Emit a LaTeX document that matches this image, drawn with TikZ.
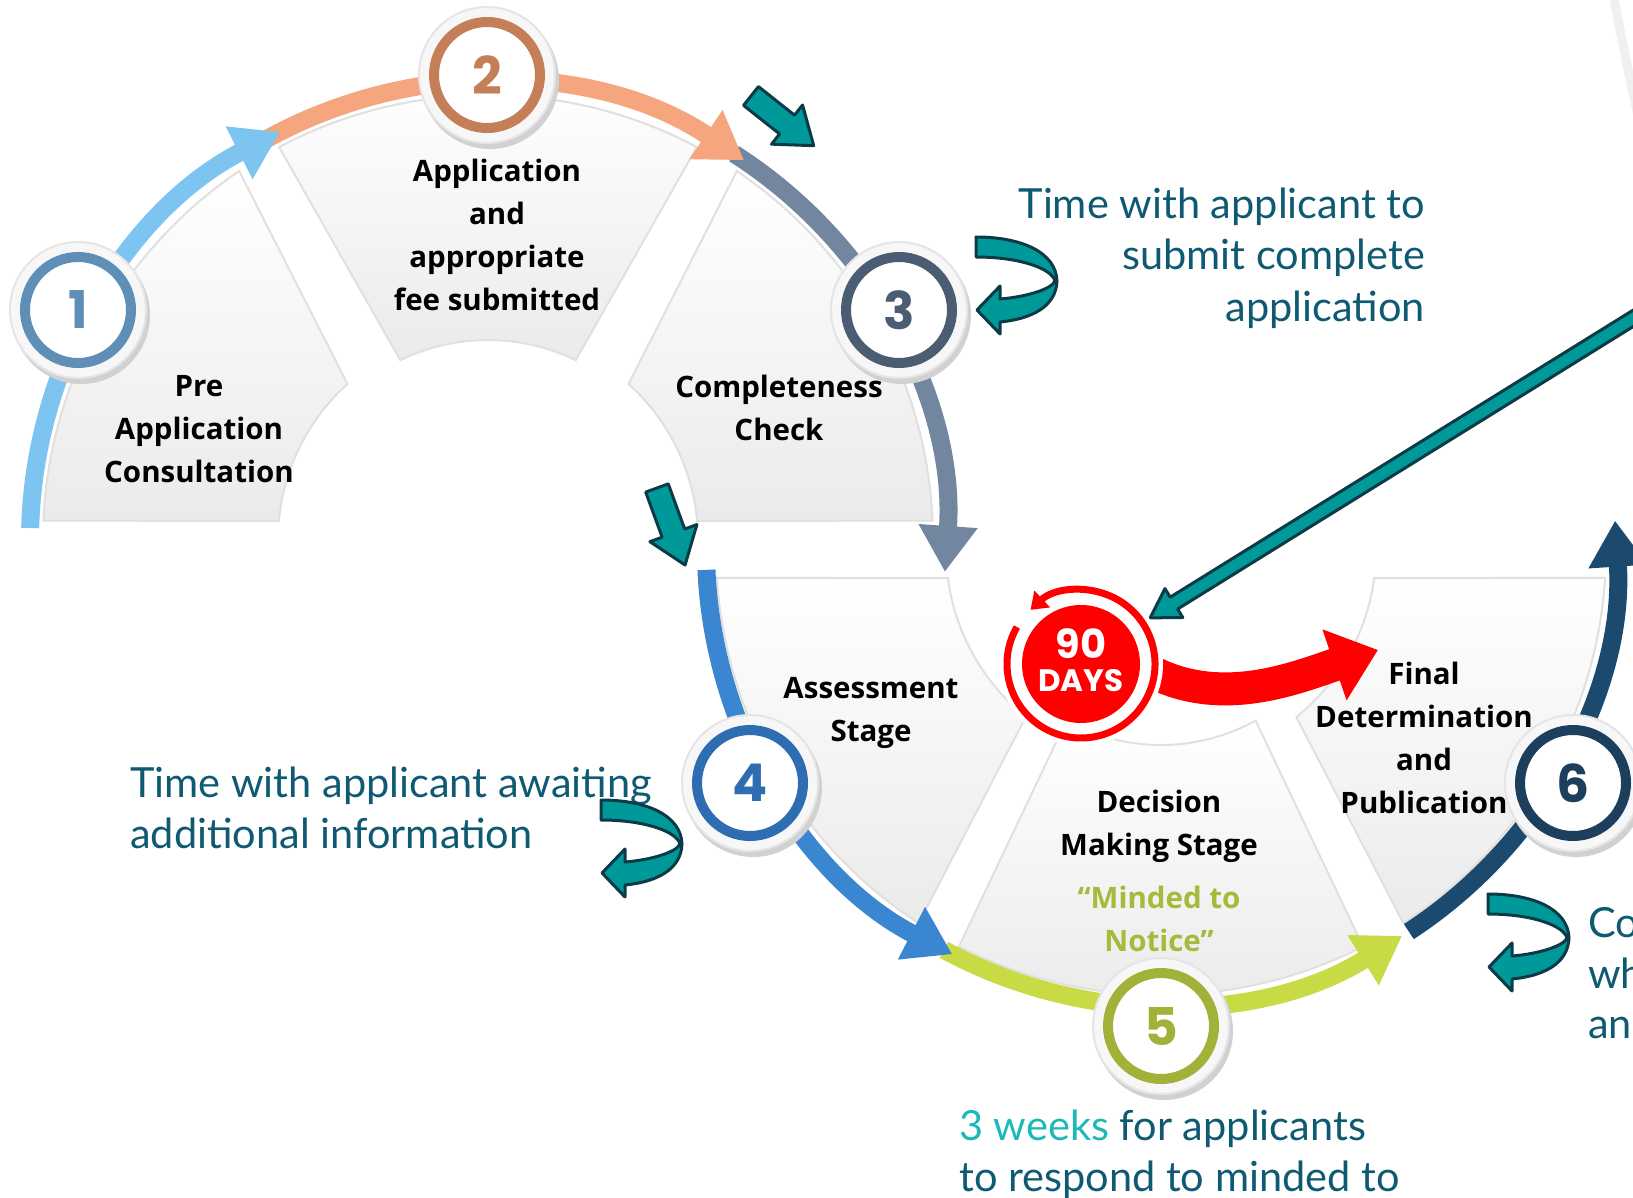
\documentclass[tikz,border=0pt]{standalone}
\usepackage{fontspec}
\setmainfont{Open Sans}
\newfontfamily\notefont{Lato}
\newfontfamily\digitfont{Poppins}
\usetikzlibrary{arrows.meta}
\definecolor{bandA}{HTML}{7DC4F0}
\definecolor{bandB}{HTML}{F5A67F}
\definecolor{bandC}{HTML}{72879F}
\definecolor{bandD}{HTML}{3A86D0}
\definecolor{bandE}{HTML}{C8DA44}
\definecolor{bandF}{HTML}{1B4A6E}
\definecolor{ringA}{HTML}{5F8FB7}
\definecolor{ringB}{HTML}{C47E58}
\definecolor{ringC}{HTML}{4B5D72}
\definecolor{ringD}{HTML}{2F6DB3}
\definecolor{ringE}{HTML}{A2B239}
\definecolor{ringF}{HTML}{1D3F5E}
\definecolor{noteC}{HTML}{0E5A72}
\definecolor{weeksC}{HTML}{1FB8B8}
\definecolor{mindedC}{HTML}{A9B93B}
\definecolor{tealF}{HTML}{00999A}
\definecolor{tealD}{HTML}{0C3B47}
\definecolor{redB}{HTML}{FF0000}
\newcommand{\stagepanel}[6]{%
  \fill[panelshadow, shift={(7,-9)}] ([shift={(#2:445)}]#1) arc[start angle=#2,end angle=#3,radius=445] -- ([shift={(#4:#6)}]#1) arc[start angle=#4,end angle=#5,radius=#6] -- cycle;
  \path[panelbody] ([shift={(#2:445)}]#1) arc[start angle=#2,end angle=#3,radius=445] -- ([shift={(#4:#6)}]#1) arc[start angle=#4,end angle=#5,radius=#6] -- cycle;
}
\newcommand{\tealblock}[7]{%
  \begin{scope}[shift={(#1,#2)}, rotate=#3]
    \draw[tealarrow] (0,-#5) -- ({#4-#7},-#5) -- ({#4-#7},-#6) -- (#4,0) -- ({#4-#7},#6) -- ({#4-#7},#5) -- (0,#5) -- cycle;
  \end{scope}}
\begin{document}
\begin{tikzpicture}[x=1pt,y=1pt,
  panelshadow/.style={fill=black!16},
  panelbody/.style={top color=white, bottom color=black!8, draw=black!12, line width=2},
  band/.style={line width=18, -{Triangle[width=56pt,length=46pt]}},
  halo/.style={circle, minimum size=136, inner sep=0, fill=black!3, draw=black!10, line width=2},
  ring/.style={circle, minimum size=106, inner sep=0, line width=10, fill=white, font=\digitfont\bfseries\fontsize{52}{52}\selectfont},
  stagelabel/.style={align=center, text=black, inner sep=0, font=\bfseries\fontsize{29.5}{43}\selectfont},
  note/.style={inner sep=0, text=noteC, font=\notefont\fontsize{41.5}{48}\selectfont},
  tealarrow/.style={fill=tealF, draw=tealD, line width=3, line join=round},
  uturn/.pic={\draw[tealarrow] (0,0) .. controls (45,0) and (80,-15) .. (81,-44) .. controls (80,-70) and (55,-82) .. (24,-85) -- (24,-97) -- (1,-73) -- (24,-49) -- (24,-62) .. controls (50,-60) and (76,-52) .. (79,-44) .. controls (76,-32) and (45,-20) .. (0,-20) -- cycle;}
]
\useasboundingbox (0,0) rectangle (1633,-1198);
\clip (0,0) rectangle (1633,-1198);
\fill[white] (0,0) rectangle (1633,-1198);

\coordinate (U) at (488,-540);
\coordinate (L) at (1161,-550);

% faint arc top right
\draw[black!6, line width=9] (1614,0) .. controls (1622,-40) and (1630,-80) .. (1640,-125);

% panels
\stagepanel{U}{177.5}{124}{132}{174.8}{210}
\stagepanel{U}{118}{62}{64}{116}{200}
\stagepanel{U}{56}{2.5}{5.2}{48}{210}
\stagepanel{L}{183.6}{237}{231}{187.5}{215}
\stagepanel{L}{243}{297}{299}{241}{195}
\stagepanel{L}{303}{356.4}{352.5}{309}{215}

% bands
\draw[band, bandC] ([shift={(57.5:458)}]U) arc[start angle=57.5,end angle=-4,radius=458];
\draw[band, bandB] ([shift={(119:458)}]U) arc[start angle=119,end angle=56,radius=458];
\draw[band, bandA] ([shift={(178.5:458)}]U) arc[start angle=178.5,end angle=117,radius=458];
\draw[band, bandF] ([shift={(303:455)}]L) arc[start angle=303,end angle=363.7,radius=455];
\draw[band, bandE] ([shift={(241.5:455)}]L) arc[start angle=241.5,end angle=302,radius=455];
\draw[band, bandD] ([shift={(182.5:455)}]L) arc[start angle=182.5,end angle=242.7,radius=455];

% numbered circles
\foreach \n/\px/\py/\col in {1/78/-310/ringA, 2/487/-75/ringB, 3/899/-310/ringC, 4/750/-783/ringD, 5/1161/-1026/ringE, 6/1573/-783/ringF}{
  \fill[black!18] (\px+3,\py-5) circle[radius=69];
  \node[halo] (h\n) at (\px,\py) {};
  \node[ring, draw=\col, text=\col] (c\n) at (\px,\py) {\n};
}

% stage labels
\node[stagelabel] (s1) at (199,-429) {Pre\\Application\\Consultation};
\node[stagelabel] (s2) at (497,-235) {Application\\and\\appropriate\\fee submitted};
\node[stagelabel] (s3) at (779,-408) {Completeness\\Check};
\node[stagelabel] (s4) at (871,-713) {Assessment\\Stage};
\node[stagelabel] (s5) at (1159,-826) {Decision\\Making Stage};
\node[stagelabel, text=mindedC] (s5b) at (1159,-919) {“Minded to\\Notice”};
\node[stagelabel] (s6) at (1424,-738) {Final\\Determination\\and\\Publication};

% notes
\node[note, anchor=base east] (t3a) at (1425,-219) {Time with applicant to};
\node[note, anchor=base east] (t3b) at (1425,-270) {submit complete};
\node[note, anchor=base east] (t3c) at (1425,-321) {application};
\node[note, anchor=base west] (t4a) at (130,-797) {Time with applicant awaiting};
\node[note, anchor=base west] (t4b) at (130,-848) {additional information};
\node[note, anchor=base west] (t5a) at (959,-1140) {\textcolor{weeksC}{3 weeks} for applicants};
\node[note, anchor=base west] (t5b) at (959,-1191) {to respond to minded to};
\node[note, anchor=base west] (t6a) at (1588,-937) {Co};
\node[note, anchor=base west] (t6b) at (1588,-988) {wh};
\node[note, anchor=base west] (t6c) at (1588,-1038) {an};

% teal arrows
\tealblock{751}{-96}{-38.4}{80}{12}{25}{34}
\tealblock{657}{-488}{-70}{82}{12}{25}{34}
\tealblock{1745}{-249}{211.8}{700}{7}{17}{28}
\pic at (976,-237) {uturn};
\pic at (601,-800) {uturn};
\pic at (1488,-894) {uturn};

% red arrow and badge
\draw[redB, line width=33, -{Triangle[width=72pt,length=46pt]}] (1135,-662) .. controls (1210,-712) and (1290,-680) .. (1378,-650);
\node[circle, fill=white, minimum size=164, inner sep=0] (bw) at (1081,-664) {};
\node[circle, fill=redB, minimum size=118, inner sep=0] (badge) at (1081,-664) {};
\draw[redB, line width=7, -{Triangle[width=22pt,length=16pt]}] ([shift={(150:74)}]badge.center) arc[start angle=150,end angle=493,radius=74];
\node[text=white, inner sep=0, font=\digitfont\bfseries\fontsize{40}{40}\selectfont] (d90) at (1081,-644) {90};
\node[text=white, inner sep=0, font=\digitfont\bfseries\fontsize{31}{31}\selectfont] (days) at (1081,-681) {DAYS};
\end{tikzpicture}
\end{document}
